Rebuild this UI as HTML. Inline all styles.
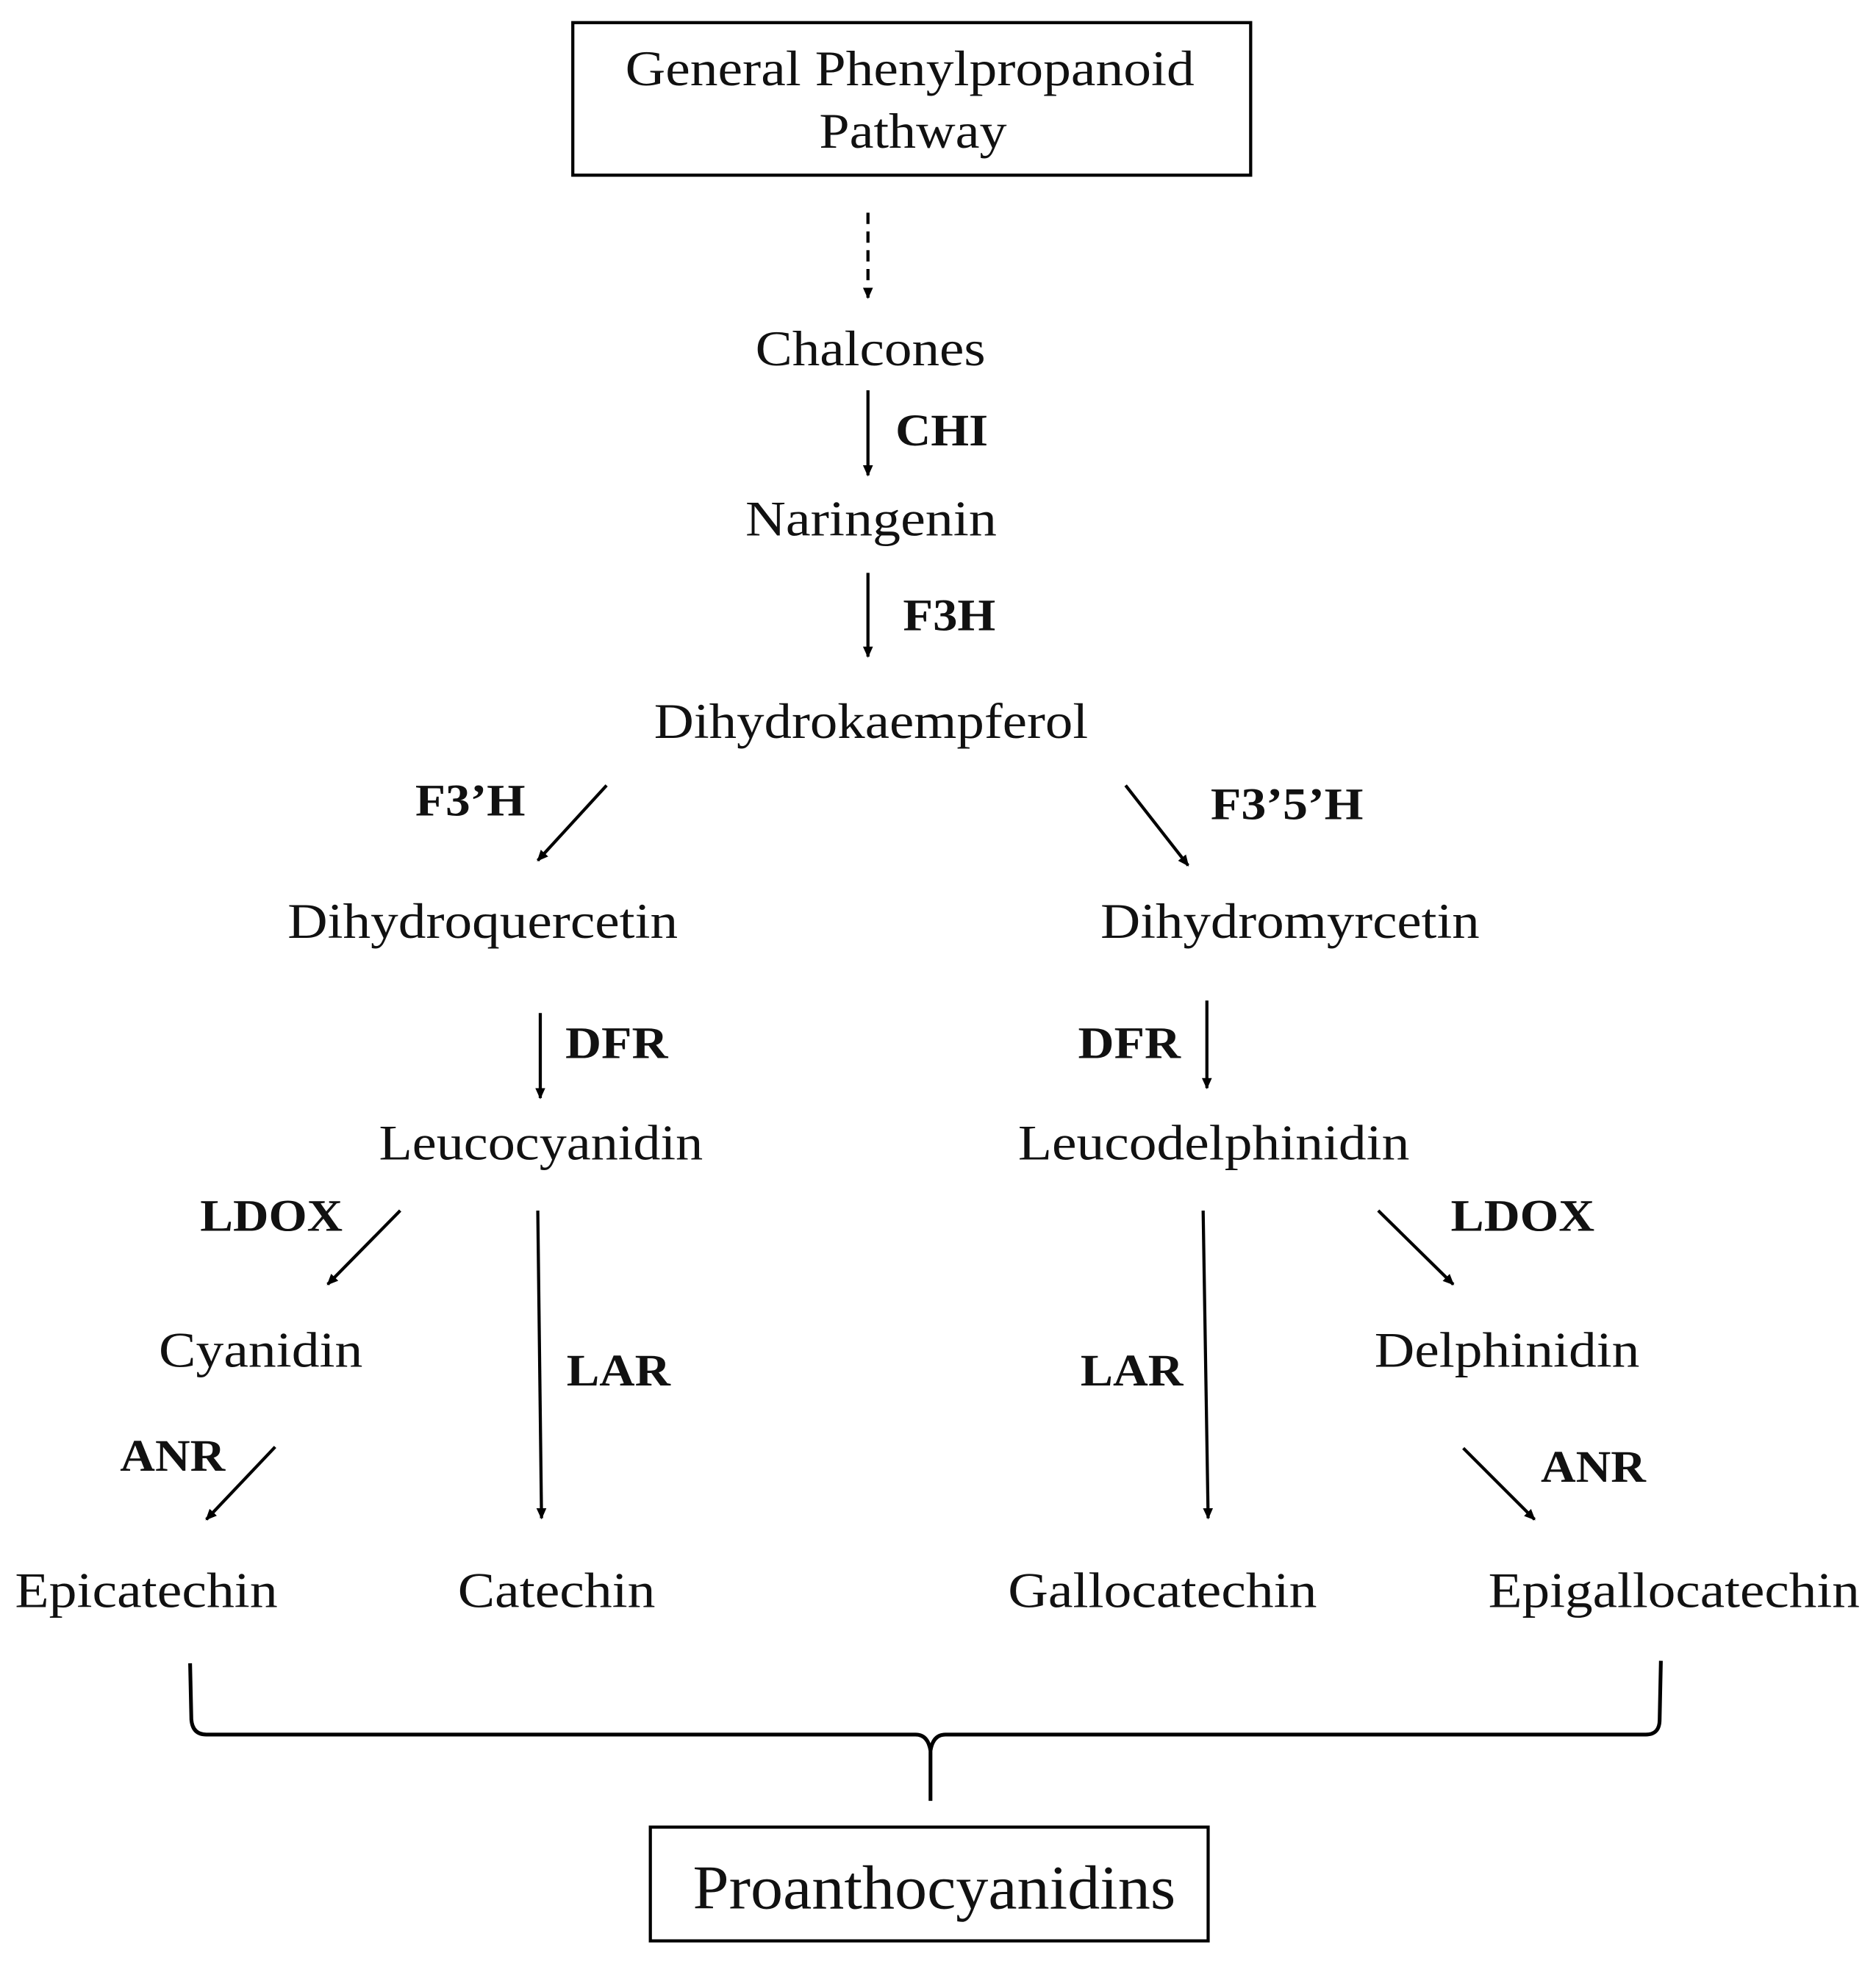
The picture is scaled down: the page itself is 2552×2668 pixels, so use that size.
<!DOCTYPE html>
<html><head><meta charset="utf-8"><style>html,body{margin:0;padding:0;background:#fff}svg{display:block}</style></head>
<body>
<svg width="2552" height="2668" viewBox="0 0 1500 1568" xmlns="http://www.w3.org/2000/svg">
<defs><marker id="a" markerWidth="10" markerHeight="10" refX="8" refY="5" orient="auto" markerUnits="userSpaceOnUse"><path d="M0,1 L9,5 L0,9 Z" fill="#000"/></marker></defs>
<rect x="0" y="0" width="1500" height="1568" fill="#fff"/>
<g font-family="'Liberation Serif',serif" fill="#111" font-size="40">
<text x="500" y="68" textLength="455" lengthAdjust="spacingAndGlyphs">General Phenylpropanoid</text>
<text x="655" y="118" textLength="150" lengthAdjust="spacingAndGlyphs">Pathway</text>
<text x="604" y="292" textLength="184" lengthAdjust="spacingAndGlyphs">Chalcones</text>
<text x="596" y="428" textLength="201" lengthAdjust="spacingAndGlyphs">Naringenin</text>
<text x="523" y="590" textLength="347" lengthAdjust="spacingAndGlyphs">Dihydrokaempferol</text>
<text x="230" y="750" textLength="312" lengthAdjust="spacingAndGlyphs">Dihydroquercetin</text>
<text x="880" y="750" textLength="303" lengthAdjust="spacingAndGlyphs">Dihydromyrcetin</text>
<text x="303" y="927" textLength="259" lengthAdjust="spacingAndGlyphs">Leucocyanidin</text>
<text x="814" y="927" textLength="313" lengthAdjust="spacingAndGlyphs">Leucodelphinidin</text>
<text x="127" y="1093" textLength="163" lengthAdjust="spacingAndGlyphs">Cyanidin</text>
<text x="1099" y="1093" textLength="212" lengthAdjust="spacingAndGlyphs">Delphinidin</text>
<text x="12" y="1285" textLength="210" lengthAdjust="spacingAndGlyphs">Epicatechin</text>
<text x="366" y="1285" textLength="158" lengthAdjust="spacingAndGlyphs">Catechin</text>
<text x="806" y="1285" textLength="247" lengthAdjust="spacingAndGlyphs">Gallocatechin</text>
<text x="1190" y="1285" textLength="297" lengthAdjust="spacingAndGlyphs">Epigallocatechin</text>
<text x="554" y="1526" font-size="50" textLength="386" lengthAdjust="spacingAndGlyphs">Proanthocyanidins</text>
</g>
<g font-family="'Liberation Serif',serif" font-weight="bold" fill="#111" font-size="36">
<text x="716" y="356" textLength="74" lengthAdjust="spacingAndGlyphs">CHI</text>
<text x="722" y="504" textLength="74" lengthAdjust="spacingAndGlyphs">F3H</text>
<text x="332" y="652" textLength="88" lengthAdjust="spacingAndGlyphs">F3’H</text>
<text x="968" y="655" textLength="122" lengthAdjust="spacingAndGlyphs">F3’5’H</text>
<text x="452" y="846" textLength="82" lengthAdjust="spacingAndGlyphs">DFR</text>
<text x="862" y="846" textLength="82" lengthAdjust="spacingAndGlyphs">DFR</text>
<text x="160" y="984" textLength="114" lengthAdjust="spacingAndGlyphs">LDOX</text>
<text x="1160" y="984" textLength="115" lengthAdjust="spacingAndGlyphs">LDOX</text>
<text x="453" y="1108" textLength="83" lengthAdjust="spacingAndGlyphs">LAR</text>
<text x="864" y="1108" textLength="82" lengthAdjust="spacingAndGlyphs">LAR</text>
<text x="96" y="1176" textLength="84" lengthAdjust="spacingAndGlyphs">ANR</text>
<text x="1232" y="1185" textLength="84" lengthAdjust="spacingAndGlyphs">ANR</text>
</g>
<g stroke="#000" stroke-width="2.5" fill="none">
<rect x="458" y="18" width="542" height="122"/>
<rect x="520" y="1461" width="446" height="91"/>
<line x1="694" y1="170" x2="694" y2="238" stroke-dasharray="9,6" marker-end="url(#a)"/>
<line x1="694" y1="312" x2="694" y2="380" marker-end="url(#a)"/>
<line x1="694" y1="458" x2="694" y2="525" marker-end="url(#a)"/>
<line x1="485" y1="628" x2="430" y2="688" marker-end="url(#a)"/>
<line x1="900" y1="628" x2="950" y2="692" marker-end="url(#a)"/>
<line x1="432" y1="810" x2="432" y2="878" marker-end="url(#a)"/>
<line x1="965" y1="800" x2="965" y2="870" marker-end="url(#a)"/>
<line x1="320" y1="968" x2="262" y2="1027" marker-end="url(#a)"/>
<line x1="430" y1="968" x2="433" y2="1214" marker-end="url(#a)"/>
<line x1="962" y1="968" x2="966" y2="1214" marker-end="url(#a)"/>
<line x1="1102" y1="968" x2="1162" y2="1027" marker-end="url(#a)"/>
<line x1="220" y1="1157" x2="165" y2="1215" marker-end="url(#a)"/>
<line x1="1170" y1="1158" x2="1227" y2="1215" marker-end="url(#a)"/>
<path d="M152,1330 L153,1375 Q154,1387 165,1387 L732,1387 Q742,1387 744,1400 L744,1440 M744,1400 Q746,1387 756,1387 L1316,1387 Q1327,1387 1327,1375 L1328,1328" stroke-width="3"/>
</g>
</svg>
</body></html>
